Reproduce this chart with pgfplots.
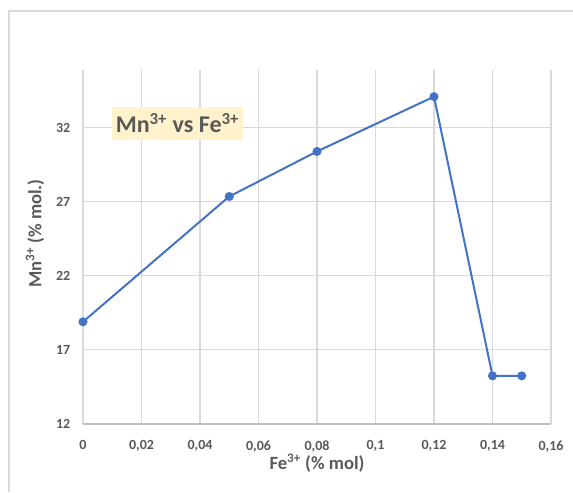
\documentclass[border=0pt]{standalone}
\usepackage{pgfplots}
\pgfplotsset{compat=1.18}
\usepackage{fontspec}
\setmainfont{Carlito}
\definecolor{txt}{HTML}{595959}
\definecolor{grd}{HTML}{D9D9D9}
\definecolor{axl}{HTML}{BFBFBF}
\definecolor{ser}{HTML}{4472C4}
\definecolor{ttl}{HTML}{FFF2CC}
\begin{document}
\begin{tikzpicture}
\useasboundingbox (0,0) rectangle (429.75pt,369pt);
\draw[grd, line width=0.8pt] (429.75pt,360.75pt) -- (6.75pt,360.75pt) -- (6.75pt,0pt);
\begin{axis}[
  at={(62.25pt,51pt)}, anchor=origin,
  scale only axis, width=351pt, height=265.5pt,
  xmin=0, xmax=0.16, ymin=12, ymax=35.9,
  xtick={0,0.02,0.04,0.06,0.08,0.1,0.12,0.14,0.16},
  ytick={12,17,22,27,32},
  grid=major,
  major grid style={grd, line width=0.8pt},
  axis x line=bottom, axis y line=left,
  axis line style={-},
  y axis line style={draw=none},
  x axis line style={axl, line width=0.8pt},
  major tick length=0pt,
  ticklabel style={font=\fontsize{10.5}{12}\selectfont\bfseries, text=txt},
  /pgf/number format/assume math mode=true,
  /pgf/number format/use comma,
  /pgf/number format/fixed,
  /pgf/number format/precision=2,
  xticklabel style={yshift=-9pt},
  yticklabel style={xshift=-6pt},
  xlabel={Fe\textsuperscript{3+} (\% mol)},
  ylabel={Mn\textsuperscript{3+} (\% mol.)},
  label style={font=\fontsize{14}{16}\selectfont\bfseries, text=txt},
  xlabel style={at={(axis description cs:0.5,-0.110)}, anchor=center},
  ylabel style={at={(axis description cs:-0.1026,0.538)}, anchor=center},
  clip=false,
]
\addplot[ser, line width=1.5pt, mark=*, mark size=2.6pt, mark options={fill=ser, draw=ser}]
coordinates {(0,18.9) (0.05,27.36) (0.08,30.4) (0.12,34.1) (0.14,15.25) (0.15,15.25)};
\node[fill=ttl, text=txt, font=\fontsize{18}{20}\selectfont\bfseries, minimum width=98pt, minimum height=24.75pt, inner sep=2pt] at (axis cs:0.0323,32.3) {Mn\textsuperscript{3+} vs Fe\textsuperscript{3+}};
\end{axis}
\end{tikzpicture}
\end{document}
